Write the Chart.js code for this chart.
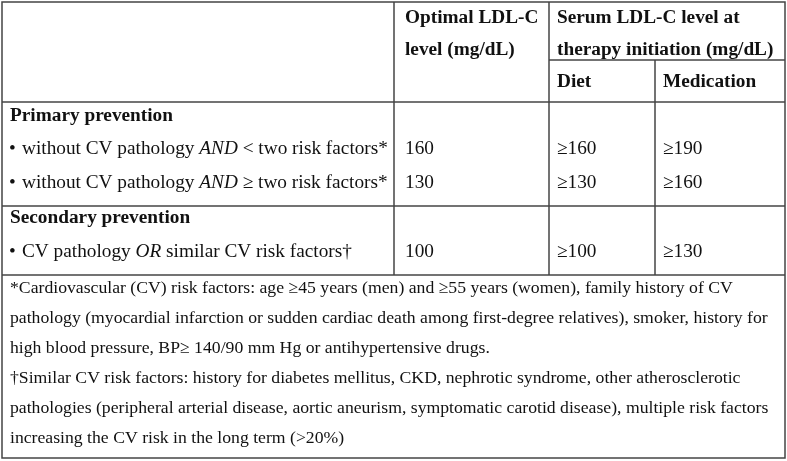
<!DOCTYPE html>
<html>
<head>
<meta charset="utf-8">
<script src="https://cdn.jsdelivr.net/npm/chart.js@4.4.0/dist/chart.umd.min.js"></script>
<style>
  html, body { margin: 0; padding: 0; background: #fff; }
  canvas { display: block; }
</style>
</head>
<body>
<canvas id="table" width="787" height="461"></canvas>
<script>
// Table content (italic parts wrapped in _underscores_)
const headerOptimal = ['Optimal LDL-C', 'level (mg/dL)'];
const headerSerum = ['Serum LDL-C level at', 'therapy initiation (mg/dL)'];
const subHeaders = ['Diet', 'Medication'];

const groupTitles = ['Primary prevention', 'Secondary prevention'];
const rowLabels = [
    'without CV pathology _AND_ < two risk factors*',
    'without CV pathology _AND_ ≥ two risk factors*',
    'CV pathology _OR_ similar CV risk factors†'
];
const optimalValues = ['160', '130', '100'];
const dietValues = ['≥160', '≥130', '≥100'];
const medicationValues = ['≥190', '≥160', '≥130'];

const footnotes = [
    '*Cardiovascular (CV) risk factors: age ≥45 years (men) and ≥55 years (women), family history of CV',
    'pathology (myocardial infarction or sudden cardiac death among first-degree relatives), smoker, history for',
    'high blood pressure, BP≥ 140/90 mm Hg or antihypertensive drugs.',
    '†Similar CV risk factors: history for diabetes mellitus, CKD, nephrotic syndrome, other atherosclerotic',
    'pathologies (peripheral arterial disease, aortic aneurism, symptomatic carotid disease), multiple risk factors',
    'increasing the CV risk in the long term (>20%)'
];

// Layout, in the scale's units (= pixels of the 787x461 picture)
const colX = [2, 394, 549, 655, 785];
const rowY = [2, 60, 102, 206, 275, 458];
const FONT = '"Liberation Serif", "Times New Roman", serif';
const BODY = 19.3;
const NOTE = 17.7;

function drawRich(ctx, text, x, y, bold, size) {
    const parts = text.split('_');
    parts.forEach((p, i) => {
        const italic = i % 2 === 1;
        ctx.font = (italic ? 'italic ' : '') + (bold ? 'bold ' : '') + size + 'px ' + FONT;
        ctx.fillText(p, x, y);
        x += ctx.measureText(p).width;
    });
}

const tablePlugin = {
    id: 'tablePlugin',
    afterDraw(chart) {
        const ctx = chart.ctx;
        const xs = chart.scales.x, ys = chart.scales.y;
        const px = v => xs.getPixelForValue(v);
        const py = v => ys.getPixelForValue(v);

        ctx.save();
        // grid lines
        ctx.strokeStyle = '#444';
        ctx.lineWidth = 1.5;
        const line = (x1, y1, x2, y2) => {
            ctx.beginPath();
            ctx.moveTo(px(x1), py(y1));
            ctx.lineTo(px(x2), py(y2));
            ctx.stroke();
        };
        ctx.strokeRect(px(colX[0]), py(rowY[0]), px(colX[4]) - px(colX[0]), py(rowY[5]) - py(rowY[0]));
        line(colX[2], rowY[1], colX[4], rowY[1]);
        line(colX[0], rowY[2], colX[4], rowY[2]);
        line(colX[0], rowY[3], colX[4], rowY[3]);
        line(colX[0], rowY[4], colX[4], rowY[4]);
        line(colX[1], rowY[0], colX[1], rowY[4]);
        line(colX[2], rowY[0], colX[2], rowY[4]);
        line(colX[3], rowY[1], colX[3], rowY[4]);

        ctx.fillStyle = '#111';
        ctx.textBaseline = 'middle';
        ctx.textAlign = 'left';

        // header
        const hLine = [18, 50];
        headerOptimal.forEach((t, i) => drawRich(ctx, t, px(405), py(hLine[i]), true, BODY));
        headerSerum.forEach((t, i) => drawRich(ctx, t, px(557), py(hLine[i]), true, BODY));
        drawRich(ctx, subHeaders[0], px(557), py(82), true, BODY);
        drawRich(ctx, subHeaders[1], px(663), py(82), true, BODY);

        // body
        const titleY = [116, 218];
        groupTitles.forEach((t, i) => drawRich(ctx, t, px(10), py(titleY[i]), true, BODY));
        const bodyY = [149, 183, 252];
        rowLabels.forEach((t, i) => {
            drawRich(ctx, '•', px(9), py(bodyY[i]), false, BODY);
            drawRich(ctx, t, px(22), py(bodyY[i]), false, BODY);
            drawRich(ctx, optimalValues[i], px(405), py(bodyY[i]), false, BODY);
            drawRich(ctx, dietValues[i], px(557), py(bodyY[i]), false, BODY);
            drawRich(ctx, medicationValues[i], px(663), py(bodyY[i]), false, BODY);
        });

        // footnotes
        footnotes.forEach((t, i) => drawRich(ctx, t, px(10), py(288 + i * 30), false, NOTE));
        ctx.restore();
    }
};

new Chart(document.getElementById('table'), {
    type: 'scatter',
    data: { datasets: [] },
    options: {
        responsive: false,
        animation: false,
        layout: { padding: 0 },
        plugins: { legend: { display: false }, tooltip: { enabled: false } },
        scales: {
            x: { type: 'linear', min: 0, max: 787, display: false },
            y: { type: 'linear', min: 0, max: 461, reverse: true, display: false }
        }
    },
    plugins: [tablePlugin]
});
</script>
</body>
</html>
